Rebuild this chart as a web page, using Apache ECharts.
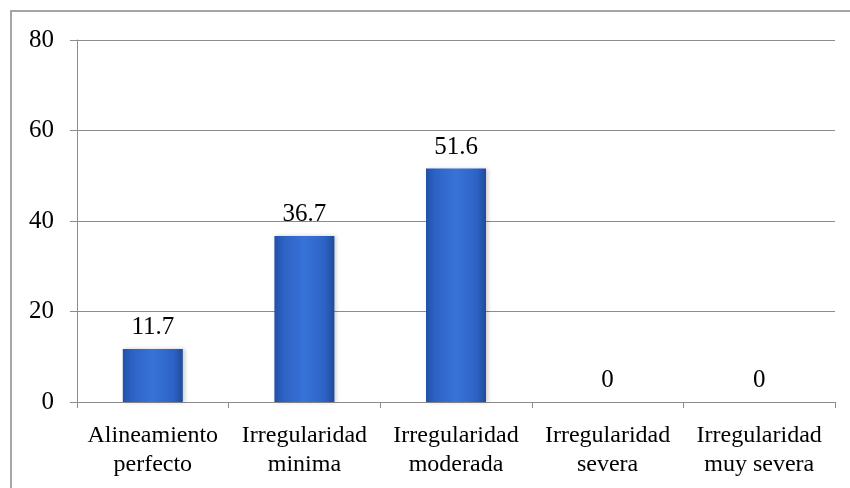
<!DOCTYPE html>
<html>
<head>
<meta charset="utf-8">
<script src="https://cdn.jsdelivr.net/npm/echarts@6/dist/echarts.min.js"></script>
<style>
html,body{margin:0;padding:0;background:#fff;}
#frame{position:absolute;left:10px;top:10px;width:840px;height:478px;border-top:2px solid #a6a6a6;border-left:2px solid #a6a6a6;box-sizing:border-box;}
#chart{position:absolute;left:0;top:0;width:850px;height:488px;}
</style>
</head>
<body>
<div id="frame"></div>
<div id="chart"></div>
<script>
const categories = ['Alineamiento\nperfecto', 'Irregularidad\nminima', 'Irregularidad\nmoderada', 'Irregularidad\nsevera', 'Irregularidad\nmuy severa'];
const values = [11.7, 36.7, 51.6, 0, 0];
const yTicks = { min: 0, max: 80, interval: 20 };

const font = 'Liberation Serif';
const chart = echarts.init(document.getElementById('chart'), null, { renderer: 'canvas' });
chart.setOption({
  animation: false,
  grid: { left: 77, right: 15, top: 40, bottom: 86, containLabel: false },
  xAxis: {
    type: 'category',
    data: categories,
    axisLine: { lineStyle: { color: '#8c8c8c', width: 1 } },
    axisTick: { show: true, length: 6, lineStyle: { color: '#8c8c8c' } },
    axisLabel: { color: '#000', fontFamily: font, fontSize: 24, lineHeight: 29, margin: 19, interval: 0 }
  },
  yAxis: {
    type: 'value',
    min: yTicks.min, max: yTicks.max, interval: yTicks.interval,
    axisLine: { show: true, lineStyle: { color: '#8c8c8c', width: 1 } },
    axisTick: { show: true, length: 7, lineStyle: { color: '#8c8c8c' } },
    axisLabel: { color: '#000', fontFamily: font, fontSize: 25, margin: 23 },
    splitLine: { lineStyle: { color: '#8c8c8c', width: 1 } }
  },
  series: [{
    type: 'bar',
    data: values,
    barWidth: 60,
    itemStyle: {
      color: new echarts.graphic.LinearGradient(0, 0, 1, 0, [
        { offset: 0, color: '#2150a8' },
        { offset: 0.15, color: '#2d62c4' },
        { offset: 0.5, color: '#3873d8' },
        { offset: 0.85, color: '#2d62c4' },
        { offset: 1, color: '#1f4a9c' }
      ]),
      shadowColor: 'rgba(0,0,0,0.2)',
      shadowBlur: 4,
      shadowOffsetX: 2,
      shadowOffsetY: 0
    },
    label: {
      show: true, position: 'top', distance: 9,
      color: '#000', fontFamily: font, fontSize: 25
    }
  }]
});
</script>
</body>
</html>
